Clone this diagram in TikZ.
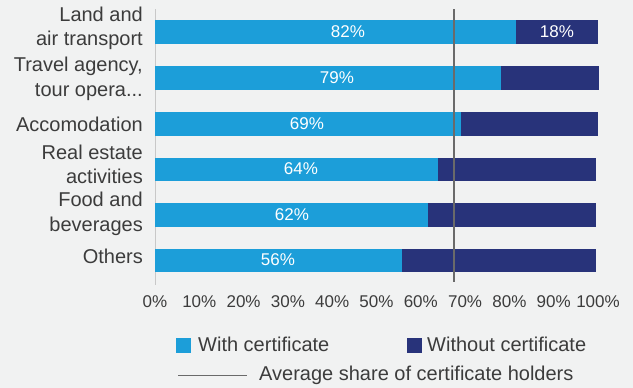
\documentclass[tikz,border=0pt]{standalone}
\usepackage{fontspec}
\setmainfont{Liberation Sans}
\usetikzlibrary{positioning}

\definecolor{bgGray}{HTML}{F1F2F2}
\definecolor{certBlue}{HTML}{1C9ED9}
\definecolor{noCertBlue}{HTML}{28337A}
\definecolor{txtGray}{HTML}{3C3C3C}
\definecolor{axisGray}{HTML}{C8C8C8}
\definecolor{avgGray}{HTML}{6A6A6A}

\tikzset{
  catlabel/.style={anchor=east, align=right, text=txtGray, inner sep=0pt,
    font=\fontsize{20}{24.5}\selectfont},
  pctlabel/.style={text=white, inner sep=0pt, font=\fontsize{17}{20}\selectfont},
  ticklabel/.style={anchor=base, text=txtGray, inner sep=0pt, font=\fontsize{17}{20}\selectfont},
  legendlabel/.style={anchor=base west, text=txtGray, inner sep=0pt, font=\fontsize{20}{22}\selectfont},
  withbar/.style={fill=certBlue},
  withoutbar/.style={fill=noCertBlue},
}

\begin{document}
\begin{tikzpicture}[x=1pt, y=-1pt]
\useasboundingbox (0,0) rectangle (633,388);
\fill[bgGray] (0,0) rectangle (633,388);

% axis
\draw[axisGray, line width=0.8pt] (155,9) -- (155,285);

% bars
\fill[withbar] (155,20) rectangle (516,43.5);
\fill[withoutbar] (516,20) rectangle (598,43.5);
\fill[withbar] (155,66) rectangle (501,89.5);
\fill[withoutbar] (501,66) rectangle (599,89.5);
\fill[withbar] (155,112) rectangle (461,135.5);
\fill[withoutbar] (461,112) rectangle (598,135.5);
\fill[withbar] (155,157.5) rectangle (438,181);
\fill[withoutbar] (438,157.5) rectangle (596,181);
\fill[withbar] (155,203) rectangle (428,226.5);
\fill[withoutbar] (428,203) rectangle (596,226.5);
\fill[withbar] (155,248.5) rectangle (402,272);
\fill[withoutbar] (402,248.5) rectangle (596,272);

% values
\node[pctlabel] (land) at (348,32) {82\%};
\node[pctlabel] (landno) at (557,32) {18\%};
\node[pctlabel] (travel) at (337,77.5) {79\%};
\node[pctlabel] (accom) at (307,124) {69\%};
\node[pctlabel] (realest) at (301,169) {64\%};
\node[pctlabel] (food) at (292,215) {62\%};
\node[pctlabel] (others) at (278,260) {56\%};

% categories
\node[catlabel] (catland) at (143,28.5) {Land and\\air transport};
\node[catlabel] (cattravel) at (143,79) {Travel agency,\\tour opera...};
\node[catlabel] (cataccom) at (143,124) {Accomodation};
\node[catlabel] (catreal) at (143,164.5) {Real estate\\activities};
\node[catlabel] (catfood) at (143,214) {Food and\\beverages};
\node[catlabel] (catothers) at (143,256) {Others};

% average line
\coordinate (avgtop) at (454,9);
\coordinate (avgbot) at (454,282);
\draw[avgGray, line width=1.2pt] (avgtop) -- (avgbot);

% ticks
\foreach \k in {0,...,10}
  \node[ticklabel] (tick\k) at (155+44.3*\k,307) {\the\numexpr\k*10\relax\%};

% legend
\fill[withbar] (176,338) rectangle (191,353);
\node[legendlabel] (legwith) at (198,351.7) {With certificate};
\fill[withoutbar] (407,338) rectangle (422,353);
\node[legendlabel] (legwithout) at (427,351.7) {Without certificate};
\coordinate (legavgA) at (178,375);
\coordinate (legavgB) at (247,375);
\draw[avgGray, line width=0.8pt] (legavgA) -- (legavgB);
\node[legendlabel] (legavg) at (259,380.7) {Average share of certificate holders};

\end{tikzpicture}
\end{document}
